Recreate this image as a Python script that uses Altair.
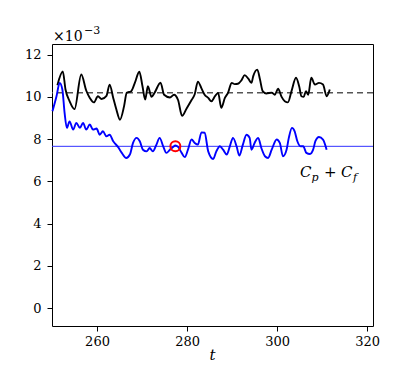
import altair as alt
import pandas as pd

# Black series (C_p + C_f instantaneous, upper curve), values in units of 1e-3
black_t = [251.2, 252.4, 253.0, 253.9, 255.0, 256.5, 257.6, 258.4, 259.3, 260.2,
           261.0, 262.1, 262.8, 263.6, 264.3, 265.1, 266.0, 266.6, 267.6, 268.4,
           269.4, 270.1, 270.7, 271.3, 272.1, 272.8, 274.1, 274.9, 276.2, 277.1,
           278.0, 278.9, 279.9, 281.0, 281.7, 282.4, 283.2, 283.9, 284.7, 285.4,
           286.2, 286.9, 287.6, 288.4, 289.1, 289.9, 290.6, 291.3, 292.1, 292.8,
           293.6, 294.3, 294.7, 295.6, 296.2, 296.8, 297.6, 298.8, 299.5, 300.2,
           301.0, 301.7, 302.4, 303.2, 304.2, 304.9, 305.4, 305.9, 306.4, 306.9,
           307.6, 308.4, 309.3, 310.2, 311.0, 311.7]
black_y = [10.55, 11.20, 10.35, 9.80, 9.42, 11.06, 10.30, 9.95, 9.74, 10.03,
           9.90, 10.05, 10.58, 9.95, 9.40, 8.92, 9.55, 10.19, 10.27, 10.66,
           11.19, 10.50, 9.87, 10.50, 10.00, 10.20, 10.67, 10.10, 9.97, 10.10,
           9.85, 9.10, 9.45, 9.85, 10.12, 10.72, 10.40, 10.10, 9.95, 9.79,
           10.03, 10.19, 9.48, 9.95, 10.19, 10.66, 10.60, 10.62, 10.79, 11.03,
           10.86, 10.66, 10.98, 11.29, 10.82, 10.27, 10.16, 10.20, 10.10, 10.38,
           10.00, 9.79, 9.74, 10.27, 10.90, 10.50, 10.03, 10.00, 10.27, 10.10,
           10.90, 10.58, 10.66, 10.58, 10.03, 10.35]

# Blue series (lower curve)
blue_t = [250.1, 251.0, 251.7, 252.3, 252.8, 253.3, 253.9, 254.7, 255.4, 256.2,
          256.9, 257.6, 258.4, 259.1, 259.9, 260.6, 261.3, 262.1, 262.8, 263.6,
          264.7, 265.5, 266.5, 267.3, 268.0, 268.8, 269.5, 270.2, 271.0, 271.7,
          272.4, 273.2, 273.9, 274.7, 275.4, 276.2, 276.9, 277.4, 278.0, 278.8,
          279.5, 280.2, 281.0, 281.7, 282.4, 283.2, 283.9, 284.7, 285.8, 286.5,
          287.3, 288.0, 288.8, 289.5, 290.2, 291.0, 291.6, 292.4, 293.2, 293.9,
          294.3, 295.0, 295.8, 296.5, 297.3, 298.0, 298.8, 299.9, 300.6, 301.3,
          302.1, 302.6, 303.3, 303.9, 304.5, 305.2, 305.8, 306.5, 307.3, 308.0,
          308.5, 309.3, 310.2, 311.0]
blue_y = [9.32, 10.03, 10.66, 10.35, 9.24, 8.53, 8.84, 8.45, 8.77, 8.53,
          8.77, 8.45, 8.69, 8.45, 8.50, 8.21, 8.37, 8.13, 8.21, 7.90,
          7.62, 7.35, 7.11, 7.27, 7.82, 8.06, 7.90, 7.50, 7.42, 7.58,
          7.42, 7.74, 8.06, 7.66, 7.35, 7.50, 7.63, 7.70, 7.63, 7.35,
          7.15, 7.50, 7.98, 7.82, 7.74, 8.32, 8.30, 7.42, 7.06, 7.42,
          7.66, 7.50, 7.27, 7.66, 8.06, 7.66, 7.22, 7.74, 8.21, 8.06,
          7.50, 7.82, 8.06, 7.58, 7.19, 7.11, 7.50, 7.98, 7.82, 7.19,
          7.50, 8.06, 8.53, 8.37, 7.90, 7.66, 7.66, 7.35, 7.30, 7.50,
          7.90, 8.10, 7.98, 7.50]

black_mean = [10.19]
blue_mean = [7.66]
marker_t = [277.4]
marker_y = [7.66]

x_ticks = [260, 280, 300, 320]
y_ticks = [0, 2, 4, 6, 8, 10, 12]
x_domain = [250, 321.3]
y_domain = [-0.84, 12.5]

FONT = "DejaVu Serif"

black_df = pd.DataFrame({"t": black_t, "y": black_y})
blue_df = pd.DataFrame({"t": blue_t, "y": blue_y})
one = pd.DataFrame({"a": [0]})

xs = alt.Scale(domain=x_domain, nice=False, zero=False)
ys = alt.Scale(domain=y_domain, nice=False, zero=False)

x_axis = alt.Axis(values=x_ticks, title=None, grid=False, domain=False,
                  labelFont=FONT, labelFontSize=13, labelPadding=4)
y_axis = alt.Axis(values=y_ticks, title=None, grid=False, domain=False,
                  labelFont=FONT, labelFontSize=13, labelPadding=6)

base_black = alt.Chart(black_df).mark_line(
    color="black", strokeWidth=1.9, interpolate="monotone").encode(
    x=alt.X("t:Q", scale=xs, axis=x_axis),
    y=alt.Y("y:Q", scale=ys, axis=y_axis),
)
blue_line = alt.Chart(blue_df).mark_line(
    color="#0000ff", strokeWidth=1.9, interpolate="monotone").encode(
    x=alt.X("t:Q", scale=xs), y=alt.Y("y:Q", scale=ys))

dash_rule = alt.Chart(pd.DataFrame({"m": black_mean})).mark_rule(
    color="#555555", strokeWidth=1.5, strokeDash=[6, 4]).encode(y=alt.Y("m:Q", scale=ys))
blue_rule = alt.Chart(pd.DataFrame({"m": blue_mean})).mark_rule(
    color="#3030ff", strokeWidth=1).encode(y=alt.Y("m:Q", scale=ys))

marker = alt.Chart(pd.DataFrame({"t": marker_t, "y": marker_y})).mark_point(
    shape="circle", size=100, color="red", filled=False, strokeWidth=2, opacity=1).encode(
    x=alt.X("t:Q", scale=xs), y=alt.Y("y:Q", scale=ys))

def txt(s, x, y, size=14, style="italic", align="left"):
    return alt.Chart(one).mark_text(text=s, font=FONT, fontSize=size, fontStyle=style,
                                    align=align, baseline="alphabetic", color="black").encode(
        x=alt.value(x), y=alt.value(y))

label = (txt("C", 248, 132.5, size=15) + txt("p", 259.5, 136.5, size=11)
         + txt("+", 272, 132.5, size=15, style="normal") + txt("C", 289, 132.5, size=15)
         + txt("f", 301, 136.5, size=11))
offset = txt("\u00d710", 1, -3.5, size=14, style="normal") + txt("\u22123", 32, -10, size=11, style="normal")
x_title = txt("t", 160.5, 316, size=15, align="center")

chart = alt.layer(blue_rule, dash_rule, base_black, blue_line, marker,
                  label, offset, x_title).properties(
    width=321, height=282,
    autosize=alt.AutoSizeParams(type="none"),
    padding={"left": 44, "top": 36, "right": 20, "bottom": 39},
).configure_view(stroke="black", strokeWidth=1).configure_axis(
    labelFont=FONT, labelColor="black", tickColor="black",
    tickSize=5, tickWidth=1,
)

chart.save("out.html", embed_options={"renderer": "svg", "actions": False})
